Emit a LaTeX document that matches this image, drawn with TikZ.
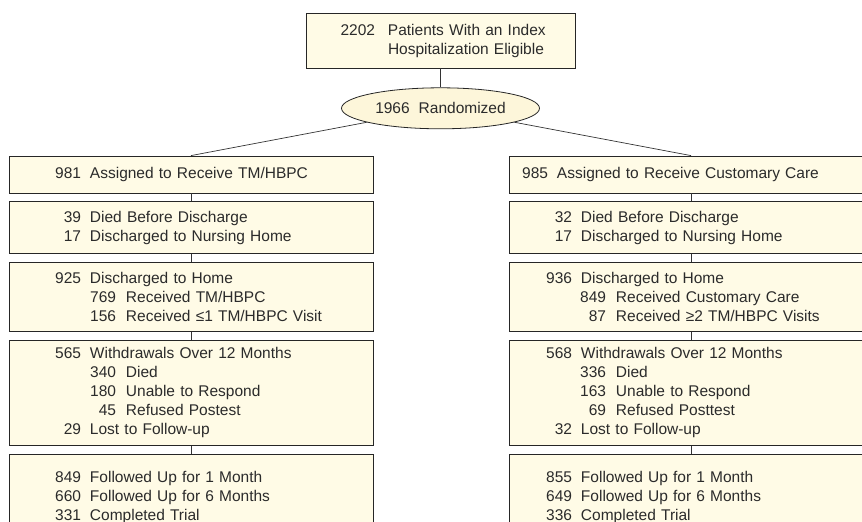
\documentclass[tikz,border=0pt]{standalone}
\usepackage{fontspec}
\setmainfont{Liberation Sans}
\usetikzlibrary{positioning,shapes.geometric}

\definecolor{boxfill}{HTML}{FFFBE6}
\definecolor{ovalfill}{HTML}{FDF6DA}
\definecolor{inktext}{HTML}{2B2B2B}

\newlength{\numcol}
\newlength{\subcol}
\newcommand{\mainrow}[2]{\makebox[\numcol][r]{#1}\hspace{9pt}#2}
\newcommand{\subrow}[2]{\makebox[\subcol][r]{#1}\hspace{10pt}#2}

\begin{document}
\begin{tikzpicture}[x=1pt, y=1pt]
    \tikzset{
      box/.style={draw=black!85, line width=0.8pt, fill=boxfill, text=inktext,
        font=\fontsize{15.5}{19}\selectfont, inner xsep=9pt, inner ysep=0pt,
        minimum height=#1, text width=346pt, align=left},
      lbox/.style={box=#1, execute at begin node={\setlength{\numcol}{63pt}\setlength{\subcol}{98pt}}},
      rbox/.style={box=#1, execute at begin node={\setlength{\numcol}{54pt}\setlength{\subcol}{88pt}}},
      oval/.style={ellipse, draw=black!85, line width=0.8pt, fill=ovalfill, text=inktext,
        font=\fontsize{15.5}{19}\selectfont, minimum width=198pt, minimum height=41pt, inner sep=0pt},
      link/.style={draw=black!80, line width=0.7pt},
    }
    \useasboundingbox (0,0) rectangle (862,-522);
    \clip (0,0) rectangle (862,-522);

    \node [box=55pt, text width=251pt] (elig) at (440.5,-40.5)
      {\makebox[60pt][r]{2202}\hspace{13pt}Patients With an Index\\
       \hspace*{73pt}Hospitalization Eligible};
    \node [oval, below=19pt of elig] (rand) {1966\hspace{9pt}Randomized};

    \node [lbox=37pt] (l1) at (191,-174.5) {\mainrow{981}{Assigned to Receive TM/HBPC}};
    \node [lbox=52pt, below=8pt of l1] (l2)
      {\mainrow{39}{Died Before Discharge}\\
       \mainrow{17}{Discharged to Nursing Home}};
    \node [lbox=69pt, below=8pt of l2] (l3)
      {\mainrow{925}{Discharged to Home}\\
       \subrow{769}{Received TM/HBPC}\\
       \subrow{156}{Received ≤1 TM/HBPC Visit}};
    \node [lbox=105pt, below=8pt of l3] (l4)
      {\mainrow{565}{Withdrawals Over 12 Months}\\
       \subrow{340}{Died}\\
       \subrow{180}{Unable to Respond}\\
       \subrow{45}{Refused Postest}\\
       \mainrow{29}{Lost to Follow-up}};
    \node [lbox=86pt, below=8pt of l4] (l5)
      {\mainrow{849}{Followed Up for 1 Month}\\
       \mainrow{660}{Followed Up for 6 Months}\\
       \mainrow{331}{Completed Trial}};

    \node [rbox=37pt] (r1) at (691,-174.5)
      {\makebox[30pt][r]{985}\hspace{9pt}Assigned to Receive Customary Care};
    \node [rbox=52pt, below=8pt of r1] (r2)
      {\mainrow{32}{Died Before Discharge}\\
       \mainrow{17}{Discharged to Nursing Home}};
    \node [rbox=69pt, below=8pt of r2] (r3)
      {\mainrow{936}{Discharged to Home}\\
       \subrow{849}{Received Customary Care}\\
       \subrow{87}{Received ≥2 TM/HBPC Visits}};
    \node [rbox=105pt, below=8pt of r3] (r4)
      {\mainrow{568}{Withdrawals Over 12 Months}\\
       \subrow{336}{Died}\\
       \subrow{163}{Unable to Respond}\\
       \subrow{69}{Refused Posttest}\\
       \mainrow{32}{Lost to Follow-up}};
    \node [rbox=86pt, below=8pt of r4] (r5)
      {\mainrow{855}{Followed Up for 1 Month}\\
       \mainrow{649}{Followed Up for 6 Months}\\
       \mainrow{336}{Completed Trial}};

    \draw [link] (elig) -- (rand);
    \draw [link] (rand) -- (l1.north);
    \draw [link] (rand) -- (r1.north);
    \foreach \a/\b in {l1/l2, l2/l3, l3/l4, l4/l5, r1/r2, r2/r3, r3/r4, r4/r5}
      \draw [link] (\a) -- (\b);

  \end{tikzpicture}
\end{document}
